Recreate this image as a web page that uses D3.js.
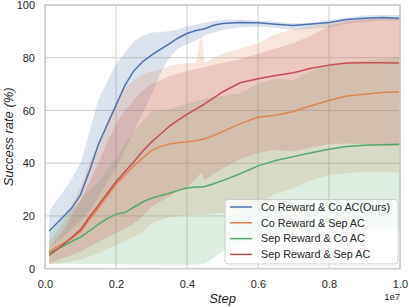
<!DOCTYPE html>
<html>
<head>
<meta charset="utf-8">
<script src="https://cdn.jsdelivr.net/npm/d3@7"></script>
<style>
body { margin: 0; background: #fff; }
text { font-family: "Liberation Sans", Arial, sans-serif; fill: #262626; }
</style>
</head>
<body>
<script>
// steps in units of 1e7
var steps = [0.012, 0.05, 0.075, 0.1, 0.125, 0.15, 0.175, 0.2, 0.225, 0.25, 0.275, 0.3, 0.325, 0.35, 0.375, 0.4, 0.425, 0.44, 0.45, 0.475, 0.5, 0.55, 0.6, 0.65, 0.7, 0.75, 0.8, 0.85, 0.9, 0.95, 1.0];

var seriesNames = ["Co Reward & Co AC(Ours)", "Co Reward & Sep AC", "Sep Reward & Co AC", "Sep Reward & Sep AC"];

var coCoMean = [14.3, 19.5, 23, 28, 37, 47, 54.5, 62, 69.5, 75, 78.5, 81, 83.2, 85.3, 87.5, 89.2, 90.3, 90.7, 91, 92.3, 93, 93.4, 93.3, 92.7, 92.2, 92.8, 93.4, 94.5, 95, 95.3, 95];
var coCoLow  = [8, 12, 15, 18, 22, 27, 33, 38, 45, 52, 59, 66, 74, 80, 83.5, 85, 86.5, 87.5, 88.5, 89.5, 90.5, 91.6, 91.8, 91.3, 90.6, 91, 91.4, 93, 93.6, 94, 94];
var coCoHigh = [22, 29, 34, 40, 52, 64, 71, 77.5, 82, 86.3, 88.3, 89.6, 89.8, 90, 90.8, 91.8, 92.6, 93, 93.3, 93.8, 94.3, 94.5, 94, 93.7, 93, 93.4, 94.3, 95.3, 96, 96.2, 96.2];

var coSepMean = [6.5, 9.5, 11.5, 14, 18.5, 23, 27.5, 32, 35.5, 39, 42, 44.8, 46.3, 47.3, 47.8, 48.1, 48.5, 49, 49.3, 50.5, 52, 55, 57.4, 58.2, 59.6, 61.8, 63.8, 65.5, 66.2, 66.8, 67.1];
var coSepLow  = [1.5, 2.2, 2.8, 3.5, 4.5, 5.8, 7.5, 9, 10.5, 12, 14, 17, 18.5, 19.5, 20, 20.3, 20.5, 20.5, 20.5, 20.8, 21.2, 22.5, 24.5, 28.5, 30.5, 33.5, 35.5, 36.2, 36.8, 36.8, 36.3];
var coSepHigh = [10, 17, 24, 31, 40, 47, 56, 63, 68.5, 71.5, 73.8, 74.8, 75.5, 77, 77.5, 77.8, 78, 89, 78.2, 80, 81.5, 83.5, 85.5, 89, 90.8, 92, 93.3, 94.3, 94.8, 95, 95];

var sepCoMean = [5.8, 8.5, 10.3, 12, 14.3, 16.8, 19, 20.7, 21.3, 23.3, 25.3, 26.7, 27.7, 28.6, 29.7, 30.6, 31, 31, 31.2, 32.2, 33.4, 36, 39, 41, 42.5, 44, 45.3, 46.3, 46.8, 47, 47.2];
var sepCoLow  = [2, 1.9, 1.9, 1.8, 1.8, 1.7, 1.7, 1.6, 1.6, 1.5, 1.5, 1.5, 1.5, 1.4, 1.4, 1.4, 1.5, 1.7, 2, 4, 6.5, 9.5, 11.5, 13, 14, 14.5, 15, 15, 15.2, 15, 15];
var sepCoHigh = [13, 19, 22.5, 26, 29.5, 33, 37.5, 42, 47, 52, 56, 59.5, 60, 60.5, 61.5, 62.5, 63.5, 64, 64.5, 65, 65.5, 66.5, 70, 72, 71.5, 75, 77.8, 78.5, 79, 79.5, 80.5];

var sepSepMean = [5, 9, 11.8, 14.8, 19.5, 24, 28.5, 33, 36.8, 40.5, 44.5, 48, 51, 54, 56.3, 58.5, 60.5, 61.7, 62.5, 64.8, 67, 70.5, 72, 73.3, 74.3, 76, 77.2, 78, 78.1, 78.1, 78];
var sepSepLow  = [2, 4, 5.2, 6.5, 8.3, 10, 11.8, 13.5, 15.2, 17, 20, 23.5, 25.5, 27.5, 29.5, 31, 34, 36.5, 33.5, 36, 38, 41.5, 44, 45, 44.5, 46, 47.3, 47.5, 47.3, 46.5, 46.5];
var sepSepHigh = [8, 14, 20, 26, 33, 40, 48, 55, 60, 64, 67.5, 70, 71.5, 73, 74, 75, 75.7, 76.2, 76.5, 77.3, 78, 79.5, 81.5, 83.5, 85.5, 88.5, 92, 93.8, 94.5, 94.8, 95];

var xTicks = [0.0, 0.2, 0.4, 0.6, 0.8, 1.0];
var yTicks = [0, 20, 40, 60, 80, 100];

var colors = ["#4c72b0", "#dd8452", "#55a868", "#c44e52"];

function graph(){
	var margin = {top: 5, right: 9, bottom: 38.3, left: 45},
		width = 409 - margin.left - margin.right,
		height = 307 - margin.top - margin.bottom;

	var series = [
		{mean: coCoMean, low: coCoLow, high: coCoHigh},
		{mean: coSepMean, low: coSepLow, high: coSepHigh},
		{mean: sepCoMean, low: sepCoLow, high: sepCoHigh},
		{mean: sepSepMean, low: sepSepLow, high: sepSepHigh}
	];

	var xScale = d3.scaleLinear().domain([0, 1]).range([0, width]);
	var yScale = d3.scaleLinear().domain([0, 100]).range([height, 0]);

	var svg = d3.select("body")
				.append("svg")
				.attr("width", 409)
				.attr("height", 307);

	var g = svg.append("g")
			.attr("transform", "translate(" + margin.left + "," + margin.top + ")");

	// grid
	g.append("g")
		.selectAll("line")
		.data(xTicks)
		.enter()
		.append("line")
		.attr("x1", function(d){ return xScale(d); })
		.attr("x2", function(d){ return xScale(d); })
		.attr("y1", 0)
		.attr("y2", height)
		.attr("stroke", "#d0d0d0")
		.attr("stroke-width", 1);

	g.append("g")
		.selectAll("line")
		.data(yTicks)
		.enter()
		.append("line")
		.attr("x1", 0)
		.attr("x2", width)
		.attr("y1", function(d){ return yScale(d); })
		.attr("y2", function(d){ return yScale(d); })
		.attr("stroke", "#d0d0d0")
		.attr("stroke-width", 1);

	var area = d3.area()
		.x(function(d){ return xScale(d.x); })
		.y0(function(d){ return yScale(d.lo); })
		.y1(function(d){ return yScale(d.hi); });

	var line = d3.line()
		.x(function(d){ return xScale(d.x); })
		.y(function(d){ return yScale(d.y); });

	series.forEach(function(s, i){
		var pts = steps.map(function(x, j){ return {x: x, lo: s.low[j], hi: s.high[j]}; });
		g.append("path")
			.attr("d", area(pts))
			.attr("fill", colors[i])
			.attr("fill-opacity", 0.2);
	});

	series.forEach(function(s, i){
		var pts = steps.map(function(x, j){ return {x: x, y: s.mean[j]}; });
		g.append("path")
			.attr("d", line(pts))
			.attr("fill", "none")
			.attr("stroke", colors[i])
			.attr("stroke-width", 1.5);
	});

	// frame
	g.append("rect")
		.attr("width", width)
		.attr("height", height)
		.attr("fill", "none")
		.attr("stroke", "#cccccc")
		.attr("stroke-width", 1.5);

	// tick labels
	var xAxis = d3.axisBottom(xScale).tickValues(xTicks).tickSize(0).tickPadding(12)
		.tickFormat(d3.format(".1f"));
	var yAxis = d3.axisLeft(yScale).tickValues(yTicks).tickSize(0).tickPadding(10);

	var xg = g.append("g")
		.attr("transform", "translate(0," + height + ")")
		.call(xAxis);
	var yg = g.append("g")
		.call(yAxis);
	[xg, yg].forEach(function(a){
		a.select(".domain").remove();
		a.selectAll("text")
			.style("font-size", "11px")
			.attr("fill", "#262626")
			.style("font-family", "'Liberation Sans', Arial, sans-serif");
	});

	svg.append("text")
		.attr("x", margin.left + width)
		.attr("y", 300)
		.attr("text-anchor", "end")
		.style("font-size", "9.5px")
		.text("1e7");

	svg.append("text")
		.attr("x", margin.left + width / 2)
		.attr("y", 303)
		.attr("text-anchor", "middle")
		.style("font-size", "13px")
		.style("font-style", "italic")
		.text("Step");

	svg.append("text")
		.attr("transform", "translate(13," + (margin.top + height / 2) + ") rotate(-90)")
		.attr("text-anchor", "middle")
		.style("font-size", "13px")
		.style("font-style", "italic")
		.text("Success rate (%)");

	// legend
	var legend = svg.append("g").attr("transform", "translate(225,199.5)");
	legend.append("rect")
		.attr("width", 173)
		.attr("height", 64.5)
		.attr("rx", 3)
		.attr("fill", "#fff")
		.attr("fill-opacity", 0.8)
		.attr("stroke", "#cccccc")
		.attr("stroke-width", 1);

	var items = legend.selectAll(".item")
		.data(seriesNames)
		.enter()
		.append("g")
		.attr("transform", function(d, i){ return "translate(0," + (7.5 + i * 15.8) + ")"; });

	items.append("line")
		.attr("x1", 5)
		.attr("x2", 27)
		.attr("stroke", function(d, i){ return colors[i]; })
		.attr("stroke-width", 1.5);

	items.append("text")
		.attr("x", 36)
		.attr("dy", "0.35em")
		.style("font-size", "10.8px")
		.text(function(d){ return d; });
}

graph()
</script>
</body>
</html>
